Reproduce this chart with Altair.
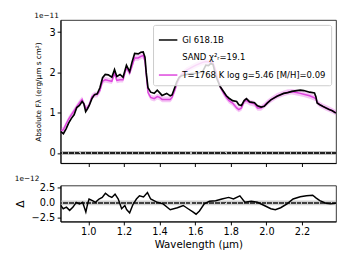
import altair as alt
import pandas as pd

# ---- data (flux in 1e-11, residual in 1e-12) ----
obs_wl = [0.845, 0.86, 0.875, 0.89, 0.905, 0.92, 0.935, 0.95, 0.965, 0.975, 0.985, 0.995,
          1.005, 1.02, 1.035, 1.05, 1.065, 1.08, 1.095, 1.112, 1.132, 1.147, 1.16, 1.178,
          1.195, 1.214, 1.232, 1.245, 1.26, 1.28, 1.295, 1.308, 1.318, 1.325, 1.335, 1.35,
          1.37, 1.387, 1.40, 1.414, 1.44, 1.46, 1.47, 1.485, 1.496, 1.51, 1.523, 1.55,
          1.578, 1.605, 1.625, 1.642, 1.66, 1.675, 1.687, 1.70, 1.715, 1.724, 1.74, 1.76,
          1.775, 1.79, 1.81, 1.833, 1.845, 1.86, 1.875, 1.888, 1.906, 1.933, 1.95, 1.97,
          1.988, 2.005, 2.025, 2.06, 2.097, 2.12, 2.143, 2.17, 2.19, 2.21, 2.243, 2.27,
          2.278, 2.285, 2.30, 2.316, 2.335, 2.352, 2.37, 2.39]
obs_flux = [0.53, 0.48, 0.60, 0.75, 0.86, 0.95, 1.13, 1.18, 1.28, 1.22, 1.03, 1.10,
            1.18, 1.35, 1.45, 1.47, 1.62, 1.87, 1.95, 1.94, 1.88, 2.07, 1.90, 1.95,
            1.88, 2.18, 2.02, 2.25, 2.47, 2.46, 2.50, 2.51, 2.38, 2.00, 1.62, 1.51,
            1.48, 1.56, 1.50, 1.43, 1.48, 1.42, 1.44, 1.62, 1.76, 1.88, 1.92, 1.95,
            1.97, 1.98, 2.00, 2.02, 2.18, 2.17, 2.22, 2.20, 1.93, 1.82, 1.65, 1.52,
            1.42, 1.36, 1.30, 1.28, 1.20, 1.18, 1.30, 1.35, 1.27, 1.25, 1.17, 1.14,
            1.16, 1.24, 1.32, 1.41, 1.48, 1.50, 1.53, 1.55, 1.56, 1.55, 1.51, 1.49,
            1.40, 1.24, 1.20, 1.16, 1.12, 1.08, 1.05, 0.99]
obs_err = [0.05] * len(obs_wl)

mod_flux = [0.55, 0.58, 0.72, 0.85, 0.95, 1.05, 1.15, 1.25, 1.33, 1.22, 1.12, 1.12,
            1.20, 1.40, 1.45, 1.45, 1.55, 1.78, 1.82, 1.80, 1.78, 1.98, 1.80, 1.82,
            1.82, 2.12, 1.98, 2.15, 2.36, 2.36, 2.40, 2.42, 2.28, 1.95, 1.50, 1.38,
            1.35, 1.40, 1.38, 1.33, 1.33, 1.33, 1.38, 1.55, 1.70, 1.85, 1.95, 2.05,
            2.12, 2.18, 2.22, 2.25, 2.27, 2.26, 2.26, 2.24, 2.05, 1.88, 1.65, 1.48,
            1.38, 1.30, 1.24, 1.12, 1.08, 1.12, 1.28, 1.30, 1.25, 1.22, 1.12, 1.12,
            1.18, 1.25, 1.32, 1.42, 1.48, 1.51, 1.52, 1.50, 1.48, 1.46, 1.42, 1.37,
            1.34, 1.26, 1.20, 1.16, 1.12, 1.09, 1.05, 1.00]
mod_err = [0.07] * len(obs_wl)

res_wl = [0.845, 0.859, 0.877, 0.895, 0.914, 0.932, 0.95, 0.968, 0.986, 0.996, 1.004,
          1.023, 1.04, 1.06, 1.078, 1.096, 1.114, 1.132, 1.15, 1.168, 1.187, 1.205,
          1.215, 1.232, 1.25, 1.27, 1.287, 1.31, 1.332, 1.35, 1.387, 1.42, 1.46, 1.50,
          1.533, 1.56, 1.587, 1.605, 1.624, 1.651, 1.68, 1.715, 1.75, 1.788, 1.815,
          1.851, 1.879, 1.915, 1.95, 1.988, 2.025, 2.05, 2.08, 2.116, 2.15, 2.19,
          2.225, 2.26, 2.28, 2.30, 2.334, 2.36, 2.39]
res_val = [-0.4, -0.97, -0.7, -1.24, -0.7, 0.1, -0.16, 0.1, -1.5, -0.16, 0.65,
           0.37, 0.1, 0.65, 0.92, 1.61, 1.18, 0.92, 1.45, 0.65, -0.97, -0.43,
           -1.1, -1.66, -0.3, 0.65, 1.18, 1.0, 1.72, 0.65, 0.1, -0.16, -1.13, -0.8,
           -0.43, -0.97, -1.5, -1.88, -1.34, -0.16, 0.27, 0.37, 0.65, 0.92, 0.65,
           1.18, 0.1, 0.27, 0.1, -0.43, -0.97, -1.13, -0.8, -0.16, 0.65, 1.02,
           1.18, 1.29, 0.81, 0.37, -0.05, -0.16, -0.05]
res_err = [0.4] * len(res_wl)

res_ticks = [-2.5, 0.0, 2.5]
res_tick_labels = ["\u22122.5", "0.0", "2.5"]

legend_labels = ["Gl 618.1B", "SAND \u03c7\u00b2\u1d63=19.1", "T=1768 K log g=5.46 [M/H]=0.09"]
legend_colors = ["#000000", "transparent", "#dd44dd"]

x_ticks = [1.0, 1.2, 1.4, 1.6, 1.8, 2.0, 2.2]
x_dom = [0.844, 2.391]

FONT = "DejaVu Sans"
MAG = "#dd44dd"

spec = pd.DataFrame({"wl": obs_wl, "obs": obs_flux, "oerr": obs_err,
                     "mod": mod_flux, "merr": mod_err})
spec["olo"] = -spec["oerr"]
spec["ohi"] = spec["oerr"]
spec["mlo"] = spec["mod"] - spec["merr"]
spec["mhi"] = spec["mod"] + spec["merr"]
spec["s_obs"] = legend_labels[0]
spec["s_mod"] = legend_labels[2]

res = pd.DataFrame({"wl": res_wl, "r": res_val, "e": res_err})
res["lo"] = -res["e"]
res["hi"] = res["e"]
tick_df = pd.DataFrame({"v": res_ticks, "t": res_tick_labels})

xs_top = alt.X("wl:Q", scale=alt.Scale(domain=x_dom, nice=False, zero=False),
               axis=alt.Axis(values=x_ticks, labels=False, title=None, tickSize=3.5,
                             grid=False))
ys_top = alt.Scale(domain=[-0.25, 3.3], nice=False, zero=False)
color_scale = alt.Scale(domain=legend_labels, range=legend_colors)

base = alt.Chart(spec)

top_y_axis = alt.Axis(values=[0, 1, 2, 3], format="d", grid=False, tickSize=3.5,
                      title="Absolute F\u03bb (erg/\u03bcm s cm\u00b2)",
                      titleFontSize=7.5, titleFontWeight="normal",
                      titleFont=FONT, titleX=-23, titleBaseline="middle")

obs_band = base.mark_area(color="#808080", opacity=0.5, clip=True).encode(
    x=xs_top,
    y=alt.Y("olo:Q", scale=ys_top, axis=top_y_axis),
    y2="ohi:Q")

zero_top = base.mark_rule(color="#222222", strokeDash=[4, 2], strokeWidth=1.2).encode(
    y=alt.datum(0))

mod_band = base.mark_area(color=MAG, opacity=0.3, clip=True).encode(
    x=xs_top, y=alt.Y("mlo:Q", scale=ys_top), y2="mhi:Q")

mod_line = base.mark_line(strokeWidth=1.5, clip=True).encode(
    x=xs_top,
    y=alt.Y("mod:Q", scale=ys_top),
    color=alt.Color("s_mod:N", scale=color_scale,
                    legend=alt.Legend(title=None, orient="top-right", offset=5,
                                      symbolType="stroke", symbolSize=360,
                                      symbolStrokeWidth=1.5, labelFontSize=8.7,
                                      labelFont=FONT, rowPadding=2, padding=5,
                                      fillColor="rgba(255,255,255,0.8)",
                                      strokeColor="#cccccc", cornerRadius=2,
                                      labelLimit=300)))

obs_line = base.mark_line(strokeWidth=1.7, clip=True).encode(
    x=xs_top,
    y=alt.Y("obs:Q", scale=ys_top),
    color=alt.Color("s_obs:N", scale=color_scale))

top = alt.layer(obs_band, zero_top, mod_band, mod_line, obs_line).properties(
    width=283, height=147,
    title=alt.TitleParams("1e\u221211", anchor="start", fontSize=7.5, font=FONT,
                          fontWeight="normal", offset=1))

rbase = alt.Chart(res)
xs_bot = alt.X("wl:Q", scale=alt.Scale(domain=x_dom, nice=False, zero=False),
               axis=alt.Axis(values=x_ticks, format=".1f", title="Wavelength (\u03bcm)",
                             tickSize=3.5, grid=False, titleFontSize=10.5,
                             titleFontWeight="normal", titlePadding=3))
ys_bot = alt.Scale(domain=[-3.1, 2.9], nice=False, zero=False)
bot_y_axis = alt.Axis(values=res_ticks, labels=False, grid=False, tickSize=3.5,
                      title="\u0394", titleFontSize=11, titleFontWeight="normal",
                      titleAngle=-90, titleX=-41, titleBaseline="middle")

res_band = rbase.mark_area(color="#b0b0b0", opacity=0.6, clip=True).encode(
    x=xs_bot, y=alt.Y("lo:Q", scale=ys_bot, axis=bot_y_axis), y2="hi:Q")
res_zero = rbase.mark_rule(color="#444444", strokeDash=[4, 2], strokeWidth=1.2).encode(
    y=alt.datum(0))
res_line = rbase.mark_line(color="#000000", strokeWidth=1.5, clip=True).encode(
    x=xs_bot, y=alt.Y("r:Q", scale=ys_bot))
res_labels = alt.Chart(tick_df).mark_text(
    align="right", baseline="middle", fontSize=10, font=FONT, color="#000000"
).encode(y=alt.Y("v:Q", scale=ys_bot), x=alt.value(-5.5), text="t:N")

bottom = alt.layer(res_band, res_zero, res_line, res_labels).properties(
    width=283, height=37,
    title=alt.TitleParams("1e\u221212", anchor="start", fontSize=7.5, font=FONT,
                          fontWeight="normal", offset=1))

chart = alt.vconcat(top, bottom, spacing=6).properties(
    padding={"left": 6, "top": 0, "right": 0, "bottom": 0}
).configure(font=FONT).configure_axis(
    labelFont=FONT, titleFont=FONT, labelFontSize=10, labelColor="#000000",
    titleColor="#000000", domainColor="#000000", tickColor="#000000",
    labelPadding=2
).configure_view(stroke="#000000", strokeWidth=0.8).configure_title(color="#000000")

chart.save("out.html", embed_options={"renderer": "svg", "actions": False})
